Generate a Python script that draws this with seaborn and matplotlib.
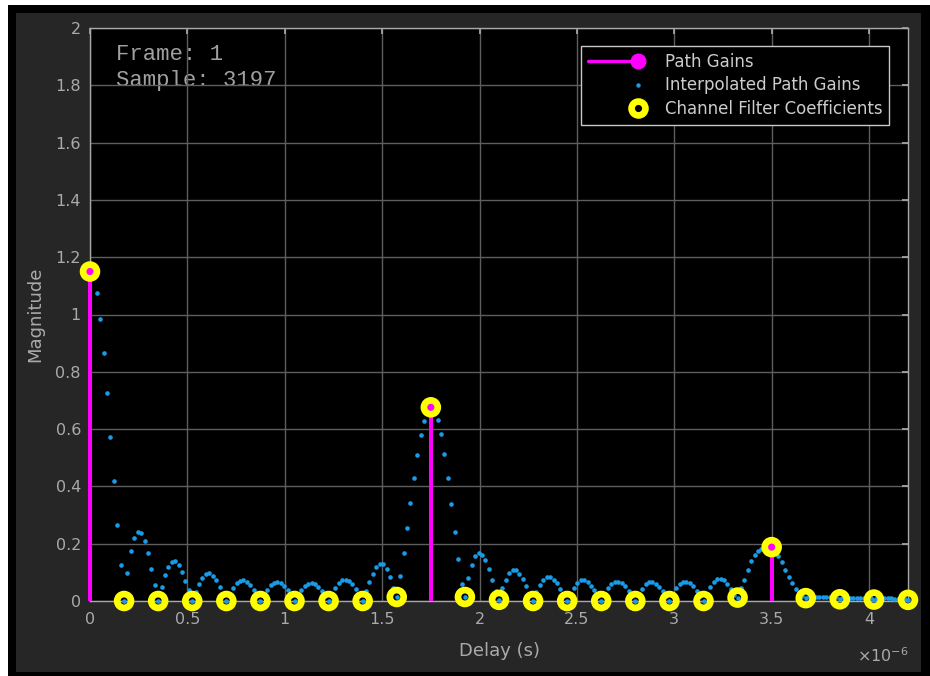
import numpy as np
import matplotlib
matplotlib.use("Agg")
import matplotlib.pyplot as plt
from matplotlib.lines import Line2D
from matplotlib.legend_handler import HandlerBase
from matplotlib.patches import Rectangle
from matplotlib.ticker import FuncFormatter
import seaborn as sns

# ---------------------------------------------------------------- data
sample_period = 0.175e-6          # channel filter sample spacing (s)
oversample = 10                   # interpolation points per sample

path_delays = [0.0, 1.75e-6, 3.5e-6]
path_gains = [1.150, 0.676, 0.188]

filter_coeffs = [1.150, 0.0, 0.0, 0.0, 0.0, 0.0, 0.0, 0.0, 0.0, 0.014,
                 0.676, 0.014, 0.004, 0.0, 0.0, 0.0, 0.0, 0.0, 0.0, 0.012,
                 0.188, 0.010, 0.006, 0.005, 0.004]

interp_gains = [
    1.150, 1.132, 1.075, 0.985, 0.866, 0.727, 0.574, 0.418, 0.265, 0.124,
    0.000, 0.099, 0.174, 0.220, 0.240, 0.236, 0.209, 0.167, 0.113, 0.056,
    0.000, 0.048, 0.091, 0.120, 0.136, 0.138, 0.124, 0.101, 0.070, 0.037,
    0.000, 0.031, 0.060, 0.081, 0.095, 0.098, 0.089, 0.072, 0.048, 0.022,
    0.000, 0.022, 0.045, 0.062, 0.071, 0.072, 0.067, 0.055, 0.039, 0.020,
    0.000, 0.020, 0.040, 0.055, 0.064, 0.066, 0.062, 0.052, 0.037, 0.018,
    0.000, 0.020, 0.038, 0.052, 0.060, 0.062, 0.058, 0.048, 0.034, 0.017,
    0.000, 0.022, 0.045, 0.063, 0.073, 0.075, 0.070, 0.058, 0.041, 0.020,
    0.000, 0.035, 0.068, 0.095, 0.119, 0.130, 0.128, 0.113, 0.083, 0.045,
    0.014, 0.086, 0.167, 0.254, 0.343, 0.430, 0.510, 0.578, 0.630, 0.664,
    0.676, 0.664, 0.633, 0.583, 0.513, 0.430, 0.338, 0.241, 0.148, 0.060,
    0.014, 0.080, 0.127, 0.157, 0.167, 0.162, 0.142, 0.112, 0.072, 0.035,
    0.004, 0.045, 0.075, 0.099, 0.109, 0.108, 0.095, 0.076, 0.051, 0.025,
    0.000, 0.030, 0.057, 0.074, 0.083, 0.083, 0.075, 0.062, 0.043, 0.022,
    0.000, 0.022, 0.046, 0.062, 0.072, 0.072, 0.066, 0.052, 0.037, 0.018,
    0.000, 0.022, 0.045, 0.060, 0.067, 0.068, 0.063, 0.051, 0.036, 0.018,
    0.000, 0.021, 0.043, 0.058, 0.065, 0.066, 0.061, 0.050, 0.035, 0.017,
    0.000, 0.022, 0.045, 0.060, 0.067, 0.068, 0.063, 0.051, 0.036, 0.018,
    0.000, 0.025, 0.050, 0.068, 0.077, 0.078, 0.072, 0.060, 0.042, 0.022,
    0.012, 0.045, 0.074, 0.108, 0.139, 0.160, 0.175, 0.182, 0.186, 0.188,
    0.188, 0.176, 0.158, 0.135, 0.108, 0.083, 0.062, 0.043, 0.026, 0.016,
    0.010, 0.016, 0.016, 0.015, 0.015, 0.015, 0.014, 0.014, 0.014, 0.013,
    0.006, 0.013, 0.012, 0.012, 0.012, 0.011, 0.011, 0.011, 0.010, 0.010,
    0.005, 0.010, 0.009, 0.009, 0.009, 0.009, 0.008, 0.008, 0.008, 0.008,
    0.004,
]

frame_number = 1
sample_number = 3197

x_ticks_us = [0, 0.5, 1, 1.5, 2, 2.5, 3, 3.5, 4]
y_ticks = [0, 0.2, 0.4, 0.6, 0.8, 1.0, 1.2, 1.4, 1.6, 1.8, 2.0]

series_labels = ["Path Gains", "Interpolated Path Gains",
                 "Channel Filter Coefficients"]

# ---------------------------------------------------------------- style
MAGENTA = "#ff00ff"
BLUE = "#1a9be8"
YELLOW = "#ffff00"
TEXT = "#aaaaaa"
EDGE = "#a8a8a8"
GRID = "#5e5e5e"
PANEL = "#262626"

sns.set_theme(style="dark")
plt.rcParams["font.family"] = ["DejaVu Sans"]

coef_delays = np.arange(len(filter_coeffs)) * sample_period
interp_delays = np.arange(len(interp_gains)) * sample_period / oversample

fig = plt.figure(figsize=(9.3, 6.76), dpi=100, facecolor="white")

# window frame and dark panel behind the axes
fig.patches.append(Rectangle((8 / 930, 0), 1 - 8 / 930, 671 / 676,
                             transform=fig.transFigure, facecolor="black",
                             edgecolor="none", zorder=-3))
fig.patches.append(Rectangle((16 / 930, 4 / 676), 905 / 930, 659 / 676,
                             transform=fig.transFigure, facecolor=PANEL,
                             edgecolor="none", zorder=-2))

ax = fig.add_axes([90 / 930, 75 / 676, 818 / 930, 573 / 676])
ax.set_facecolor("black")
ax.set_axisbelow("line")

# interpolated path gains
sns.scatterplot(x=interp_delays, y=interp_gains, ax=ax, color=BLUE, s=11,
                linewidth=0, zorder=3, clip_on=False, legend=False)

# path gain stems
ax.vlines(path_delays, 0, path_gains, color=MAGENTA, linewidth=2.9,
          zorder=4, clip_on=False)
sns.scatterplot(x=path_delays, y=path_gains, ax=ax, color=MAGENTA, s=110,
                linewidth=0, zorder=4.5, clip_on=False, legend=False)

# channel filter coefficients as hollow rings
sns.scatterplot(x=coef_delays, y=filter_coeffs, ax=ax, marker="o", s=100,
                facecolor="none", edgecolor=YELLOW, linewidth=4.8,
                zorder=5, clip_on=False, legend=False)

ax.set_xlim(0, 4.2e-6)
ax.set_ylim(0, 2)
ax.set_xticks([t * 1e-6 for t in x_ticks_us])
ax.set_yticks(y_ticks)
ax.xaxis.set_major_formatter(FuncFormatter(lambda v, p: f"{round(v * 1e6, 3):g}"))
ax.yaxis.set_major_formatter(FuncFormatter(lambda v, p: f"{round(v, 3):g}"))

ax.grid(True, color=GRID, linewidth=1.0)
for sp in ax.spines.values():
    sp.set_visible(True)
    sp.set_color(EDGE)
    sp.set_linewidth(1.0)

ax.tick_params(axis="both", which="major", direction="in", length=4,
               color=EDGE, labelcolor=TEXT, labelsize=11.5,
               top=True, right=True)
ax.tick_params(axis="x", pad=8)
ax.tick_params(axis="y", pad=6.5)

ax.set_xlabel("Delay (s)", color=TEXT, fontsize=13)
ax.set_ylabel("Magnitude", color=TEXT, fontsize=13)
ax.xaxis.set_label_coords(0.5, -0.072)
ax.yaxis.set_label_coords(-0.056, 0.5)

ax.text(1.001, -0.1065, r"$\times 10^{-6}$", transform=ax.transAxes,
        ha="right", va="baseline", color=TEXT, fontsize=11.5)

# frame / sample readout
ax.text(0.0318, 0.944, f"Frame: {frame_number}", transform=ax.transAxes,
        family="Liberation Mono", fontsize=16, color="#a0a0a0", zorder=1)
ax.text(0.0318, 0.899, f"Sample: {sample_number}", transform=ax.transAxes,
        family="Liberation Mono", fontsize=16, color="#a0a0a0", zorder=1)


class RightMarkerHandler(HandlerBase):
    """Legend key with an optional line and the marker at the right end."""

    def create_artists(self, legend, orig_handle, xdescent, ydescent,
                       width, height, fontsize, trans):
        y = (height - ydescent) / 2
        x0, x1 = -xdescent, -xdescent + width
        artists = []
        if orig_handle.get_linestyle() not in ("None", "none", "", " "):
            artists.append(Line2D([x0, x1], [y, y],
                                  color=orig_handle.get_color(),
                                  linewidth=orig_handle.get_linewidth(),
                                  transform=trans))
        artists.append(Line2D([x1], [y], linestyle="none",
                              marker=orig_handle.get_marker(),
                              markersize=orig_handle.get_markersize(),
                              markerfacecolor=orig_handle.get_markerfacecolor(),
                              markeredgecolor=orig_handle.get_markeredgecolor(),
                              markeredgewidth=orig_handle.get_markeredgewidth(),
                              transform=trans))
        return artists


handles = [
    Line2D([], [], color=MAGENTA, linewidth=2.4, marker="o", markersize=10.5,
           markerfacecolor=MAGENTA, markeredgecolor=MAGENTA),
    Line2D([], [], linestyle="none", marker="o", markersize=3.2,
           markerfacecolor=BLUE, markeredgecolor=BLUE, markeredgewidth=0),
    Line2D([], [], linestyle="none", marker="o", markersize=10,
           markerfacecolor="none", markeredgecolor=YELLOW, markeredgewidth=4.8),
]
leg = ax.legend(handles, series_labels, loc="upper right",
                bbox_to_anchor=(0.9768, 0.9686), borderaxespad=0,
                handler_map={Line2D: RightMarkerHandler()},
                handlelength=3.0, handletextpad=1.6, borderpad=0.4,
                labelspacing=0.35, fontsize=12, frameon=True, fancybox=False,
                facecolor="black", edgecolor="#c8c8c8", framealpha=1,
                labelcolor="#cccccc")
leg.get_frame().set_linewidth(1.0)
leg.set_zorder(10)

fig.savefig("out.png", dpi=100, facecolor=fig.get_facecolor())
